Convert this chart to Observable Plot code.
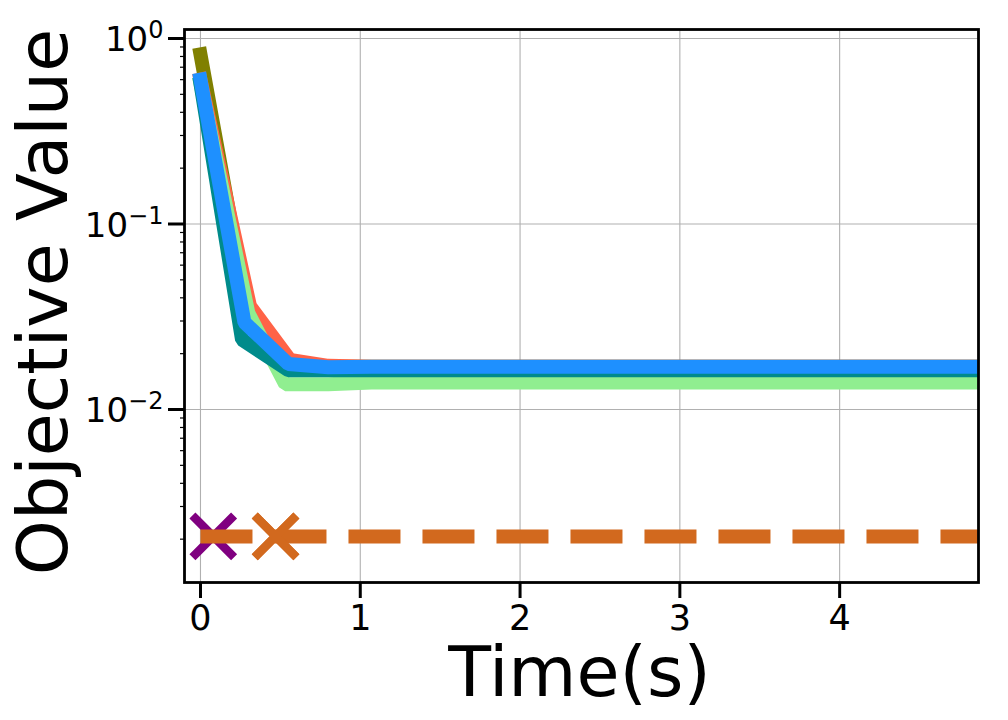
<!DOCTYPE html>
<html>
<head>
<meta charset="utf-8">
<script src="https://cdn.jsdelivr.net/npm/d3@7"></script>
<script src="https://cdn.jsdelivr.net/npm/@observablehq/plot@0.6"></script>
<style>
  html, body { margin: 0; padding: 0; background: white; }
  #chart { width: 1008px; height: 720px; }
</style>
</head>
<body>
<div id="chart"></div>
<script>
// ---- data ----
const oliveTimes  = [0, 0.30, 0.55, 0.80, 1.07, 5.0];
const oliveValues = [0.82, 0.031, 0.0175, 0.0170, 0.0170, 0.0170];

const tomatoTimes  = [0, 0.31, 0.56, 0.80, 1.07, 5.0];
const tomatoValues = [0.60, 0.036, 0.0185, 0.0172, 0.0170, 0.0170];

const greenTimes  = [0, 0.30, 0.53, 0.80, 1.07, 5.0];
const greenValues = [0.57, 0.033, 0.0137, 0.0137, 0.0140, 0.0140];

const tealTimes  = [0, 0.26, 0.55, 0.80, 1.07, 5.0];
const tealValues = [0.57, 0.0238, 0.0163, 0.0163, 0.0163, 0.0163];

const blueTimes  = [0, 0.275, 0.55, 0.80, 1.07, 5.0];
const blueValues = [0.60, 0.0295, 0.0176, 0.0169, 0.0170, 0.0170];

const seriesNames  = ["olive", "tomato", "lightgreen", "teal", "blue"];
const seriesColors = ["#808000", "#ff6347", "#90ee90", "#008b8b", "#1e90ff"];

const baselineTimes  = [0, 5.0];
const baselineValues = [0.00207, 0.00207];

const markerTimes  = [0.08, 0.47];
const markerValues = [0.00207, 0.00207];
const markerColors = ["#800080", "#d2691e"];

const xTicks = [0, 1, 2, 3, 4];
const yTicks = [1, 0.1, 0.01];
const yMinorTicks = [];
for (const p of [-3, -2, -1]) for (let m = 2; m <= 9; m++) yMinorTicks.push(m * Math.pow(10, p));

const xLabel = "Time(s)";
const yLabel = "Objective Value";

// ---- build tables ----
const allTimes = [oliveTimes, tomatoTimes, greenTimes, tealTimes, blueTimes];
const allValues = [oliveValues, tomatoValues, greenValues, tealValues, blueValues];
const lineMarks = seriesNames.map((name, i) => {
  const rows = allTimes[i].map((t, j) => ({t, v: allValues[i][j]}));
  return Plot.line(rows, {x: "t", y: "v", stroke: seriesColors[i], strokeWidth: 14,
    strokeLinecap: "square", strokeLinejoin: "miter", clip: true});
});
const baseline = baselineTimes.map((t, j) => ({t, v: baselineValues[j]}));
const markers = markerTimes.map((t, j) => ({t, v: markerValues[j], c: markerColors[j]}));

const chart = Plot.plot({
  width: 1008,
  height: 720,
  marginLeft: 184,
  marginRight: 30,
  marginTop: 29,
  marginBottom: 138,
  style: {fontFamily: "DejaVu Sans", background: "white", color: "black"},
  x: {domain: [-0.100, 4.869]},
  y: {type: "log", domain: [0.001168, 1.118]},
  marks: [
    Plot.gridX(xTicks, {stroke: "#b0b0b0", strokeOpacity: 1, strokeWidth: 1.1}),
    Plot.gridY(yTicks, {stroke: "#b0b0b0", strokeOpacity: 1, strokeWidth: 1.1}),
    ...lineMarks,
    Plot.dot(markers, {x: "t", y: "v", symbol: "times", r: 19, stroke: "c", strokeWidth: 8.5,
      strokeLinecap: "butt"}),
    Plot.line(baseline, {x: "t", y: "v", stroke: "#d2691e", strokeWidth: 14,
      strokeDasharray: "52,22", strokeLinecap: "butt", clip: true}),
    Plot.dot(markers.slice(1), {x: "t", y: "v", symbol: "times", r: 19, stroke: "c", strokeWidth: 8.5,
      strokeLinecap: "butt"}),
    Plot.axisX(xTicks, {tickSize: 16, tickPadding: 7, fontSize: 35, strokeWidth: 3,
      label: null, tickFormat: d => String(d)}),
    Plot.axisY(yMinorTicks, {tickSize: 4, strokeWidth: 1.2, label: null, tickFormat: () => ""}),
    Plot.axisY(yTicks, {tickSize: 16, tickPadding: 5, fontSize: 34, strokeWidth: 3,
      label: null, tickFormat: d => "10^" + Math.round(Math.log10(d))}),
    Plot.text([xLabel], {frameAnchor: "bottom", text: d => d, fontSize: 70,
      textAnchor: "middle", lineAnchor: "bottom", dy: 113, dx: -2, fill: "black"}),
    Plot.text([yLabel], {frameAnchor: "left", text: d => d, fontSize: 70, rotate: -90,
      textAnchor: "middle", lineAnchor: "bottom", dx: -118, dy: -4, fill: "black"}),
    Plot.frame({stroke: "black", strokeWidth: 2.8})
  ]
});

// superscript exponents on the y tick labels
d3.select(chart).selectAll("text").each(function() {
  const el = d3.select(this);
  const s = el.text();
  const m = /^10\^(-?\d+)$/.exec(s);
  if (!m) return;
  const e = m[1].replace("-", "\u2212");
  el.text(null);
  el.append("tspan").attr("dy", 2).text("10");
  el.append("tspan").attr("dy", -13).attr("font-size", 24).text(e);
});

document.getElementById("chart").appendChild(chart);
</script>
</body>
</html>
